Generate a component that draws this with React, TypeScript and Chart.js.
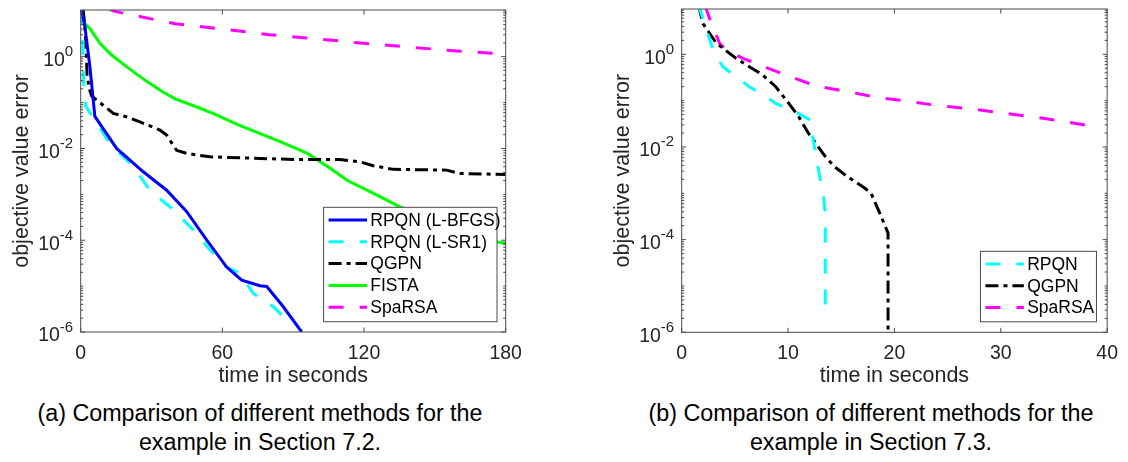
import React, { useEffect, useRef } from 'react';
import { Chart, registerables } from 'chart.js';

Chart.register(...registerables);

// ---------------- Panel (a): Section 7.2 ----------------
const xTicksA = [0, 60, 120, 180];
const yTickExponents = [-6, -4, -2, 0];

const lbfgsTimeA = [0.4, 1.8, 3.9, 6.0, 15.2, 26.5, 36.4, 44.9, 53.4, 61.8, 68.2, 75.9, 78.8, 85.8, 93.6];
const lbfgsErrA = [11, 4.4, 0.6, 0.05, 0.01, 0.0031, 0.00123, 0.00042, 1.0e-4, 2.6e-5, 1.35e-5, 1.02e-5, 9.8e-6, 3.55e-6, 1.0e-6];

const lsr1TimeA = [0.4, 0.9, 1.2, 2.0, 12.4, 22.3, 29.3, 39.2, 47.7, 54.7, 61.8, 67.5, 73.1, 81.6, 85.8];
const lsr1ErrA = [11, 2.0, 0.3, 0.085, 0.0128, 0.004, 0.00123, 0.00046, 0.000167, 6.2e-5, 2.6e-5, 1.9e-5, 6.9e-6, 3.55e-6, 2.15e-6];

const qgpnTimeA = [1.0, 2.0, 2.7, 3.6, 4.6, 13.8, 19.3, 25.1, 33.6, 36.4, 40.6, 44.9, 54.7, 90, 109.8, 118.3, 123.9, 132.4, 155, 160.6, 180];
const qgpnErrA = [11, 3.3, 0.4, 0.2, 0.14, 0.058, 0.049, 0.038, 0.025, 0.0195, 0.0091, 0.0078, 0.00656, 0.00575, 0.00575, 0.0051, 0.0042, 0.0035, 0.00337, 0.00285, 0.00271];

const fistaTimeA = [0.8, 1.8, 3.9, 8.2, 13, 19.5, 27.9, 35, 40, 50, 57, 66, 76, 86, 96, 105, 113, 124, 135, 150, 165, 176, 180];
const fistaErrA = [11, 5.2, 4.1, 1.93, 1.1, 0.6, 0.29, 0.168, 0.12, 0.077, 0.055, 0.034, 0.021, 0.013, 0.0078, 0.0039, 0.002, 0.00105, 0.00054, 0.00026, 0.00013, 9.3e-5, 8.5e-5];

const sparsaTimeA = [12, 14, 25, 40, 60, 80, 100, 121, 140, 161, 180];
const sparsaErrA = [11.2, 9.8, 7.5, 5.2, 4.0, 3.0, 2.45, 1.93, 1.6, 1.31, 1.15];

// ---------------- Panel (b): Section 7.3 ----------------
const xTicksB = [0, 10, 20, 30, 40];

const rpqnTimeB = [1.55, 3.0, 3.87, 5.1, 6.35, 7.75, 8.84, 10.2, 10.7, 12.1, 12.2, 12.7, 13.0, 13.3, 13.5, 13.5];
const rpqnErrB = [12, 1.15, 0.54, 0.33, 0.2, 0.13, 0.087, 0.063, 0.057, 0.038, 0.023, 0.0052, 0.0021, 0.00107, 0.00035, 1.9e-6];

const qgpnTimeB = [1.6, 2.0, 3.26, 3.87, 5.1, 6.35, 7.6, 8.84, 10.07, 11.0, 11.9, 12.6, 13.5, 14.4, 15.35, 17.2, 17.8, 18.75, 19.4, 19.4];
const qgpnErrB = [11, 4.6, 1.73, 1.35, 0.82, 0.54, 0.36, 0.2, 0.087, 0.045, 0.02, 0.012, 0.0062, 0.0037, 0.0025, 0.0013, 0.001, 3.2e-4, 1.38e-4, 1.0e-6];

const sparsaTimeB = [2.2, 2.8, 3.56, 4.19, 5.73, 6.98, 8.5, 9.77, 12.56, 15.66, 18.45, 21.4, 24.3, 27.3, 30.2, 33.2, 36.1, 37.5, 39.0];
const sparsaErrB = [11, 4.6, 1.73, 1.24, 0.82, 0.64, 0.46, 0.36, 0.21, 0.155, 0.117, 0.096, 0.077, 0.066, 0.054, 0.044, 0.035, 0.031, 0.027];

// ---------------- styles ----------------
const FONT = '"Liberation Sans", Arial, Helvetica, sans-serif';
const TEXT = '#262626';
const AXIS = '#4a4a4a';
const DASH = [15, 16];
const DASHDOT = [13, 5, 4, 5];

type Series = { label: string; t: number[]; v: number[]; color: string; dash: number[] };

const seriesA: Series[] = [
  { label: 'RPQN (L-BFGS)', t: lbfgsTimeA, v: lbfgsErrA, color: '#0000ff', dash: [] },
  { label: 'RPQN (L-SR1)', t: lsr1TimeA, v: lsr1ErrA, color: '#00ffff', dash: DASH },
  { label: 'QGPN', t: qgpnTimeA, v: qgpnErrA, color: '#000000', dash: DASHDOT },
  { label: 'FISTA', t: fistaTimeA, v: fistaErrA, color: '#00ff00', dash: [] },
  { label: 'SpaRSA', t: sparsaTimeA, v: sparsaErrA, color: '#ff00ff', dash: DASH },
];

const seriesB: Series[] = [
  { label: 'RPQN', t: rpqnTimeB, v: rpqnErrB, color: '#00ffff', dash: DASH },
  { label: 'QGPN', t: qgpnTimeB, v: qgpnErrB, color: '#000000', dash: DASHDOT },
  { label: 'SpaRSA', t: sparsaTimeB, v: sparsaErrB, color: '#ff00ff', dash: DASH },
];

const matlabPlugin = {
  id: 'matlab',
  afterDraw(chart: any, _args: any, opts: any) {
    const { ctx, chartArea: a } = chart;
    const xs = chart.scales.x;
    const ys = chart.scales.y;
    ctx.save();
    ctx.strokeStyle = AXIS;
    ctx.lineWidth = 1;
    ctx.setLineDash([]);
    ctx.strokeRect(a.left, a.top, a.right - a.left, a.bottom - a.top);
    ctx.beginPath();
    for (const v of opts.xTicks) {
      const px = xs.getPixelForValue(v);
      ctx.moveTo(px, a.bottom);
      ctx.lineTo(px, a.bottom - 4.5);
      ctx.moveTo(px, a.top);
      ctx.lineTo(px, a.top + 4.5);
    }
    const eMin = Math.floor(Math.log10(ys.min));
    const eMax = Math.floor(Math.log10(ys.max));
    for (let e = eMin; e <= eMax; e++) {
      for (let m = 1; m <= 9; m++) {
        const v = m * Math.pow(10, e);
        if (v < ys.min * 0.999 || v > ys.max) continue;
        const py = ys.getPixelForValue(v);
        const major = m === 1 && opts.yExps.includes(e);
        const len = major ? 4.5 : 2.5;
        ctx.moveTo(a.left, py);
        ctx.lineTo(a.left + len, py);
        ctx.moveTo(a.right, py);
        ctx.lineTo(a.right - len, py);
      }
    }
    ctx.stroke();

    // y tick labels with superscript exponents
    ctx.fillStyle = TEXT;
    for (const e of opts.yExps) {
      const py = ys.getPixelForValue(Math.pow(10, e));
      const exp = String(e);
      ctx.font = `15px ${FONT}`;
      const ew = ctx.measureText(exp).width;
      const right = a.left - 7.5;
      ctx.textAlign = 'left';
      ctx.textBaseline = 'alphabetic';
      ctx.fillText(exp, right - ew, py - 0.5);
      ctx.font = `19.5px ${FONT}`;
      ctx.textAlign = 'right';
      ctx.textBaseline = 'middle';
      ctx.fillText('10', right - ew, py + 4);
    }

    // legend
    const L = opts.legend;
    const bx = a.right - L.right - L.width;
    const by = a.bottom - L.bottom - L.height;
    ctx.fillStyle = '#ffffff';
    ctx.fillRect(bx, by, L.width, L.height);
    ctx.strokeStyle = AXIS;
    ctx.lineWidth = 1;
    ctx.strokeRect(bx, by, L.width, L.height);
    chart.data.datasets.forEach((ds: any, i: number) => {
      const ry = by + L.firstRow + i * L.rowGap;
      ctx.beginPath();
      ctx.strokeStyle = ds.borderColor;
      ctx.lineWidth = ds.borderWidth;
      ctx.setLineDash(ds.borderDash || []);
      ctx.moveTo(bx + 5, ry);
      ctx.lineTo(bx + 43.4, ry);
      ctx.stroke();
      ctx.setLineDash([]);
      ctx.fillStyle = '#000000';
      ctx.font = `17.5px ${FONT}`;
      ctx.textAlign = 'left';
      ctx.textBaseline = 'middle';
      ctx.fillText(ds.label, bx + 46.7, ry + 1);
    });
    ctx.restore();
  },
};

type PanelSpec = {
  series: Series[];
  xMax: number;
  xTicks: number[];
  yMax: number;
  padLeft: number;
  padRight: number;
  padTop: number;
  xAxisHeight: number;
  legend: { width: number; height: number; right: number; bottom: number; firstRow: number; rowGap: number };
};

function makeConfig(p: PanelSpec): any {
  return {
    type: 'line',
    data: {
      datasets: p.series.map((s) => ({
        label: s.label,
        data: s.t.map((x, i) => ({ x, y: s.v[i] })),
        borderColor: s.color,
        backgroundColor: s.color,
        borderWidth: 3,
        borderDash: s.dash,
        pointRadius: 0,
        fill: false,
        tension: 0,
        clip: 0,
      })),
    },
    options: {
      animation: false,
      responsive: false,
      devicePixelRatio: 1,
      layout: { padding: { left: p.padLeft, right: p.padRight, top: p.padTop, bottom: 0 } },
      plugins: {
        legend: { display: false },
        tooltip: { enabled: false },
        matlab: { xTicks: p.xTicks, yExps: yTickExponents, legend: p.legend },
      },
      scales: {
        x: {
          type: 'linear',
          min: 0,
          max: p.xMax,
          afterBuildTicks: (s: any) => {
            s.ticks = p.xTicks.map((v) => ({ value: v }));
          },
          afterFit: (s: any) => {
            s.height = p.xAxisHeight;
          },
          grid: { display: false, drawTicks: false },
          border: { display: false },
          ticks: {
            autoSkip: false,
            maxRotation: 0,
            padding: 10,
            color: TEXT,
            font: { family: FONT, size: 19.5 },
          },
          title: {
            display: true,
            text: 'time in seconds',
            color: TEXT,
            font: { family: FONT, size: 21.5 },
            padding: { top: 0, bottom: 5.6 },
          },
        },
        y: {
          type: 'logarithmic',
          min: 1e-6,
          max: p.yMax,
          afterFit: (s: any) => {
            s.width = 80.7;
          },
          grid: { display: false, drawTicks: false },
          border: { display: false },
          ticks: { display: false },
          title: {
            display: true,
            text: 'objective value error',
            color: TEXT,
            font: { family: FONT, size: 21.5 },
            padding: { top: 9.6, bottom: 0 },
          },
        },
      },
    },
    plugins: [matlabPlugin],
  };
}

const panelA: PanelSpec = {
  series: seriesA,
  xMax: 180,
  xTicks: xTicksA,
  yMax: 10.4,
  padLeft: 0,
  padRight: 560 - 505.7,
  padTop: 10,
  xAxisHeight: 63,
  legend: { width: 173.4, height: 114.4, right: 8.7, bottom: 10.3, firstRow: 12.7, rowGap: 21.8 },
};

const panelB: PanelSpec = {
  series: seriesB,
  xMax: 40,
  xTicks: xTicksB,
  yMax: 9.5,
  padLeft: 41,
  padRight: 568 - 551.7,
  padTop: 9,
  xAxisHeight: 62.7,
  legend: { width: 116, height: 70.5, right: 10.7, bottom: 10.5, firstRow: 12.7, rowGap: 21.8 },
};

function Panel({ spec, left, width, height }: { spec: PanelSpec; left: number; width: number; height: number }) {
  const ref = useRef<HTMLCanvasElement>(null);
  useEffect(() => {
    const chart = new Chart(ref.current as HTMLCanvasElement, makeConfig(spec));
    return () => chart.destroy();
  }, [spec]);
  return (
    <div style={{ position: 'absolute', left, top: 0, width, height }}>
      <canvas ref={ref} width={width} height={height} style={{ width, height, display: 'block' }} />
    </div>
  );
}

const captionStyle: React.CSSProperties = {
  position: 'absolute',
  top: 399,
  width: 600,
  textAlign: 'center',
  fontFamily: FONT,
  fontSize: 23.3,
  lineHeight: '28.5px',
  color: '#000',
  whiteSpace: 'nowrap',
};

export default function App() {
  return (
    <div style={{ position: 'absolute', left: 0, top: 0, width: 1128, height: 462, background: '#fff', overflow: 'hidden' }}>
      <Panel spec={panelA} left={0} width={560} height={395} />
      <Panel spec={panelB} left={560} width={568} height={395} />
      <div style={{ ...captionStyle, left: 260 - 300 }}>
        (a) Comparison of different methods for the
        <br />
        example in Section 7.2.
      </div>
      <div style={{ ...captionStyle, left: 871 - 300 }}>
        (b) Comparison of different methods for the
        <br />
        example in Section 7.3.
      </div>
    </div>
  );
}
